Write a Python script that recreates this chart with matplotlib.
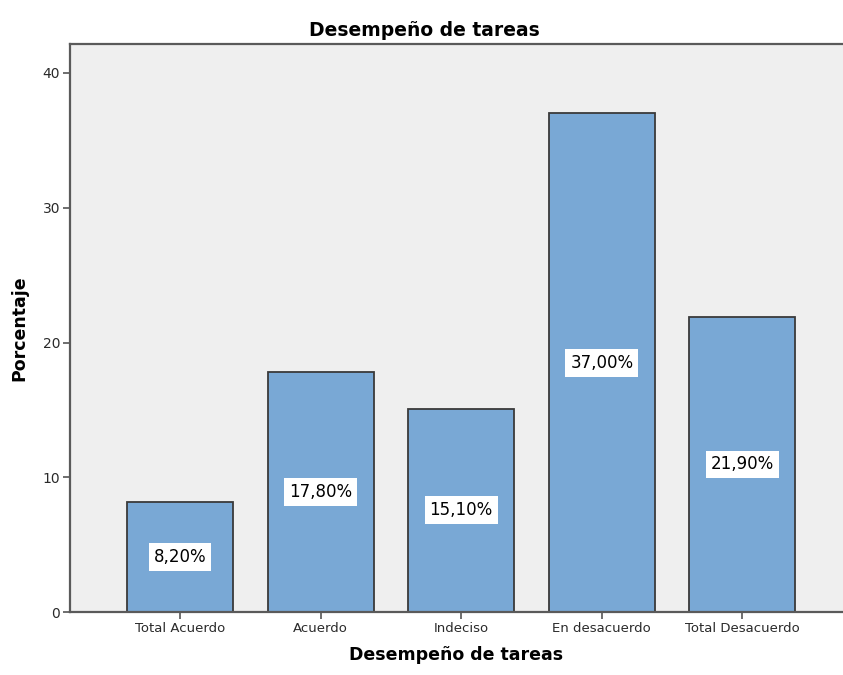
import matplotlib
matplotlib.use("Agg")
import matplotlib.pyplot as plt

categories = ["Total Acuerdo", "Acuerdo", "Indeciso", "En desacuerdo", "Total Desacuerdo"]
values = [8.2, 17.8, 15.1, 37.0, 21.9]
value_labels = ["8,20%", "17,80%", "15,10%", "37,00%", "21,90%"]
y_ticks = [0, 10, 20, 30, 40]

plt.rcParams["font.family"] = ["DejaVu Sans"]

fig = plt.figure(figsize=(8.43, 6.75), dpi=100)
ax = fig.add_axes([0.083, 0.0933, 0.917, 0.8415])
ax.set_facecolor("#EFEFEF")

x = list(range(len(categories)))
ax.bar(x, values, width=0.754, color="#79A8D5", edgecolor="#3A3A3A", linewidth=1.3, zorder=2)

for xi, v, lab in zip(x, values, value_labels):
    ax.text(xi, v / 2, lab, ha="center", va="center", fontsize=12, color="black",
            bbox=dict(facecolor="white", edgecolor="none", pad=3.5), zorder=3)

ax.set_xlim(-0.782, 4.715)
ax.set_ylim(0, 42.15)
ax.set_xticks(x)
ax.set_xticklabels(categories, fontsize=9.5, color="#2A2A2A")
ax.set_yticks(y_ticks)
ax.set_yticklabels([str(t) for t in y_ticks], fontsize=10, color="#2A2A2A")
ax.tick_params(axis="both", direction="out", length=5, width=1.2, color="#555555", pad=2)

for side in ["left", "bottom", "top"]:
    ax.spines[side].set_color("#5A5A5A")
    ax.spines[side].set_linewidth(1.6)
ax.spines["right"].set_visible(False)

ax.set_title("Desempeño de tareas", fontsize=13.5, fontweight="bold", pad=6, x=0.459)
ax.set_xlabel("Desempeño de tareas", fontsize=12.5, fontweight="bold", labelpad=8)
ax.set_ylabel("Porcentaje", fontsize=12.5, fontweight="bold", labelpad=10)

fig.savefig("out.png", dpi=100, facecolor="white")
